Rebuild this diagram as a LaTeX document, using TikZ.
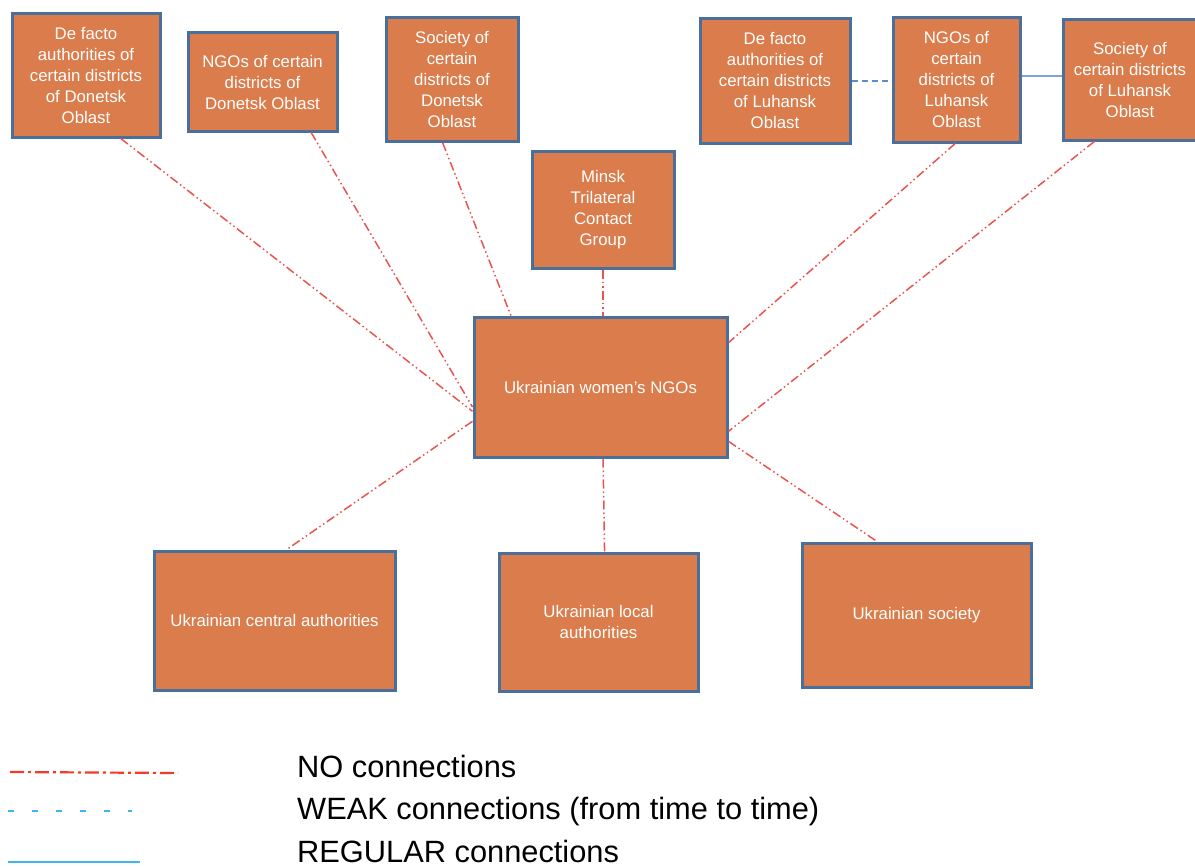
\documentclass[tikz,border=0pt]{standalone}
\usepackage{fontspec}
\setmainfont{Liberation Sans}
\usetikzlibrary{calc}
\definecolor{boxfill}{HTML}{DA7C4C}
\definecolor{boxline}{HTML}{4B6F9B}
\definecolor{noline}{HTML}{E8554E}
\definecolor{legred}{HTML}{F03C2A}
\definecolor{legblue}{HTML}{3DB5F0}
\definecolor{weakblue}{HTML}{5B8BD0}
\definecolor{regblue}{HTML}{7FA3D9}
\tikzset{
  ngobox/.style={draw=boxline, fill=boxfill, line width=3pt, text=white,
    align=center, inner sep=0pt, font=\fontsize{16.8}{21}\selectfont},
  noconn/.style={draw=noline, line width=1.5pt,
    dash pattern=on 9pt off 3pt on 1.5pt off 3pt on 1.5pt off 3pt},
  weakconn/.style={draw=weakblue, line width=1.6pt, dash pattern=on 6pt off 4pt},
  regconn/.style={draw=regblue, line width=1.6pt},
  legtext/.style={anchor=base west, inner sep=0pt, font=\fontsize{30.8}{36}\selectfont}
}
\begin{document}
\begin{tikzpicture}[x=1pt,y=-1pt]
\useasboundingbox (0,0) rectangle (1195,867);
\clip (0,0) rectangle (1195,867);
% boxes
\node[ngobox, minimum width=148pt, minimum height=123pt] (dfD) at (86,75.5) {De facto\\authorities of\\certain districts\\of Donetsk\\Oblast};
\node[ngobox, minimum width=149pt, minimum height=98pt] (ngoD) at (262.5,82) {NGOs of certain\\districts of\\Donetsk Oblast};
\node[ngobox, minimum width=132pt, minimum height=123pt] (socD) at (452,79.5) {Society of\\certain\\districts of\\Donetsk\\Oblast};
\node[ngobox, minimum width=142pt, minimum height=117pt] (minsk) at (603,209.5) {Minsk\\Trilateral\\Contact\\Group};
\node[ngobox, minimum width=150pt, minimum height=124pt] (dfL) at (775,81) {De facto\\authorities of\\certain districts\\of Luhansk\\Oblast};
\node[ngobox, minimum width=127pt, minimum height=124pt] (ngoL) at (956.5,80) {NGOs of\\certain\\districts of\\Luhansk\\Oblast};
\node[ngobox, minimum width=134pt, minimum height=120pt] (socL) at (1130,80) {Society of\\certain districts\\of Luhansk\\Oblast};
\node[ngobox, minimum width=253pt, minimum height=140pt] (women) at (600.5,387) {Ukrainian women’s NGOs};
\node[ngobox, minimum width=241pt, minimum height=139pt] (cauth) at (274.5,620.5) {Ukrainian central authorities};
\node[ngobox, minimum width=199pt, minimum height=138pt] (lauth) at (598.5,622) {Ukrainian local\\authorities};
\node[ngobox, minimum width=229pt, minimum height=144pt] (usoc) at (916.5,615) {Ukrainian society};
% NO connections
\draw[noconn] ($(dfD.south west)!0.73!(dfD.south east)$) -- ($(women.north west)!0.67!(women.south west)$);
\draw[noconn] ($(ngoD.south west)!0.82!(ngoD.south east)$) -- ($(women.north west)!0.64!(women.south west)$);
\draw[noconn] ($(socD.south west)!0.43!(socD.south east)$) -- ($(women.north west)!0.15!(women.north east)$);
\draw[noconn] (minsk.south) -- (minsk.south |- women.north);
\draw[noconn] ($(ngoL.south west)!0.49!(ngoL.south east)$) -- ($(women.north east)!0.19!(women.south east)$);
\draw[noconn] ($(socL.south west)!0.24!(socL.south east)$) -- ($(women.north east)!0.81!(women.south east)$);
\draw[noconn] ($(women.north west)!0.74!(women.south west)$) -- ($(cauth.north west)!0.55!(cauth.north east)$);
\draw[noconn] ($(women.south west)!0.51!(women.south east)$) -- ($(lauth.north west)!0.53!(lauth.north east)$);
\draw[noconn] ($(women.north east)!0.88!(women.south east)$) -- ($(usoc.north west)!0.33!(usoc.north east)$);
% WEAK and REGULAR
\draw[weakconn] ($(dfL.north east)!0.5!(dfL.south east)$) -- (ngoL.west |- {$(dfL.north east)!0.5!(dfL.south east)$});
\draw[regconn] ($(ngoL.north east)!0.47!(ngoL.south east)$) -- (socL.west |- {$(ngoL.north east)!0.47!(ngoL.south east)$});
% legend
\coordinate (lr1) at (10,772); \coordinate (lr2) at (178,773);
\coordinate (lb1) at (8,811); \coordinate (lb2) at (132,811);
\coordinate (lc1) at (8,862); \coordinate (lc2) at (140,862);
\draw[draw=legred, line width=2.2pt, dash pattern=on 14pt off 4pt on 3pt off 4pt] (lr1) -- (lr2);
\draw[draw=legblue, line width=1.6pt, dash pattern=on 6pt off 18pt] (lb1) -- (lb2);
\draw[draw=legblue, line width=1.6pt] (lc1) -- (lc2);
\node[legtext] (t1) at (297,777) {NO connections};
\node[legtext] (t2) at (297,819) {WEAK connections (from time to time)};
\node[legtext] (t3) at (297,862) {REGULAR connections};
\end{tikzpicture}
\end{document}
